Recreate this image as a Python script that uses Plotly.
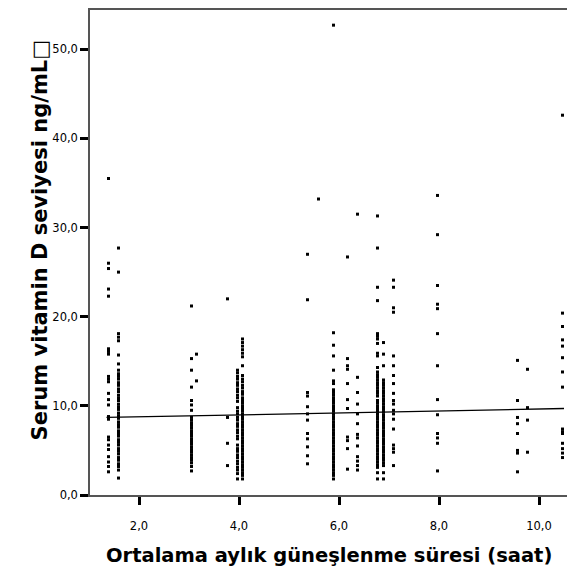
import plotly.graph_objects as go

# Column x positions (hours) and the vitamin D values read in each column
col_x = [1.39, 1.59, 3.05, 3.15, 3.77, 3.97, 4.07, 5.37, 5.59, 5.89, 6.17, 6.37,
         6.77, 6.89, 7.09, 7.97, 9.57, 9.77, 10.47]

y_139 = [35.5, 26.0, 25.4, 23.1, 22.3, 16.4, 16.1, 15.8, 13.3, 13.0, 12.7, 11.4, 10.7,
         10.1, 8.8, 8.5, 6.5, 6.2, 5.6, 5.1, 4.3, 3.7, 3.2, 2.6]
y_159 = [27.7, 25.0, 18.1, 17.7, 17.3, 15.7, 14.7, 14.0, 13.6, 13.3, 13.0, 12.6, 12.3,
         11.9, 11.6, 11.2, 10.9, 10.6, 10.2, 9.9, 9.6, 9.2, 8.9, 8.6, 8.2, 7.9, 7.6,
         7.2, 6.9, 6.6, 6.2, 5.9, 5.6, 5.2, 4.9, 4.6, 4.2, 3.9, 3.5, 3.2, 2.8, 1.9]
y_305 = [21.2, 15.3, 14.0, 12.1, 10.6, 10.1, 9.5, 8.7, 8.4, 8.1, 7.8, 7.5, 7.2, 6.9,
         6.6, 6.3, 6.0, 5.7, 5.4, 5.1, 4.8, 4.5, 4.2, 3.9, 3.6, 3.2, 2.7]
y_315 = [15.8, 12.8]
y_377 = [22.0, 8.7, 5.8, 3.3]
y_397 = [14.0, 13.7, 13.3, 13.0, 12.6, 12.3, 11.9, 11.6, 11.2, 10.9, 10.5, 9.8, 9.4,
         9.1, 8.7, 8.4, 8.0, 7.7, 7.3, 7.0, 6.6, 6.3, 5.6, 5.2, 4.9, 4.5, 4.2, 3.8,
         3.5, 3.1, 2.8, 2.4, 1.8]
y_407 = [17.5, 17.1, 16.7, 16.3, 15.9, 15.5, 14.5, 13.4, 13.0, 12.7, 12.3, 12.0, 11.6,
         11.3, 10.9, 10.6, 10.3, 10.0, 9.7, 9.4, 9.1, 8.8, 8.5, 8.2, 7.9, 7.6, 7.3,
         7.0, 6.7, 6.4, 6.1, 5.8, 5.5, 5.2, 4.9, 4.6, 4.3, 4.0, 3.7, 3.4, 3.1, 2.8,
         2.5, 2.2, 1.8]
y_537 = [27.0, 21.9, 11.5, 11.1, 9.9, 9.1, 8.4, 6.9, 6.3, 5.4, 4.4, 3.5]
y_559 = [33.2]
y_589 = [52.7, 18.2, 16.8, 15.6, 14.0, 12.8, 12.5, 11.8, 11.5, 11.2, 10.9, 10.6, 10.3,
         10.0, 9.7, 9.4, 9.1, 8.8, 8.5, 8.2, 7.9, 7.6, 7.3, 7.0, 6.7, 6.4, 6.1, 5.8,
         5.5, 5.2, 4.9, 4.6, 4.3, 4.0, 3.7, 3.4, 3.1, 2.8, 2.5, 2.2, 1.8]
y_617 = [26.7, 15.3, 14.5, 14.1, 12.5, 10.7, 9.7, 6.5, 6.1, 5.2, 2.9]
y_637 = [31.5, 13.2, 11.5, 10.2, 9.1, 8.0, 6.8, 6.4, 5.5, 4.3, 3.8, 3.3, 2.8]
y_677 = [31.3, 27.7, 23.3, 21.8, 18.1, 17.8, 17.5, 17.0, 15.9, 15.6, 14.3, 13.8, 13.5,
         13.2, 12.9, 12.6, 12.3, 12.0, 11.7, 11.4, 11.1, 10.6, 10.3, 10.0, 9.7, 9.4,
         9.1, 8.8, 8.5, 8.2, 7.9, 7.6, 7.3, 7.0, 6.7, 6.4, 6.1, 5.8, 5.5, 5.2, 4.9,
         4.6, 4.3, 4.0, 3.7, 3.4, 3.1, 2.5, 1.8]
y_689 = [17.1, 15.8, 14.5, 12.9, 12.6, 12.3, 12.0, 11.7, 11.4, 11.1, 10.8, 10.5, 10.2,
         9.9, 9.6, 9.3, 9.0, 8.7, 8.4, 8.1, 7.8, 7.5, 7.2, 6.9, 6.6, 6.3, 6.0, 5.7,
         5.4, 5.1, 4.8, 4.5, 4.2, 3.9, 3.6, 3.3, 2.5, 1.8]
y_709 = [24.1, 23.3, 21.0, 20.5, 15.6, 14.5, 13.4, 12.5, 11.4, 10.6, 10.2, 9.5, 9.1,
         8.5, 7.4, 5.6, 5.2, 4.8, 3.3]
y_797 = [33.6, 29.2, 23.5, 21.4, 20.9, 18.1, 14.5, 10.7, 9.0, 6.9, 6.4, 5.8, 2.7]
y_957 = [15.1, 10.6, 8.7, 8.0, 6.9, 5.0, 4.7, 2.6]
y_977 = [14.1, 9.8, 8.4, 4.8]
y_1047 = [42.6, 20.4, 18.9, 17.4, 16.7, 15.4, 13.8, 12.1, 7.4, 7.1, 6.9, 5.8, 5.2,
          4.7, 4.2]

col_y = [y_139, y_159, y_305, y_315, y_377, y_397, y_407, y_537, y_559, y_589, y_617,
         y_637, y_677, y_689, y_709, y_797, y_957, y_977, y_1047]

# Linear fit line end points
fit_x = [1.35, 10.5]
fit_y = [8.7, 9.7]

x_ticks = [2, 4, 6, 8, 10]
y_ticks = [0, 10, 20, 30, 40, 50]

x_title = "<b>Ortalama aylık güneşlenme süresi (saat)</b>"
y_title = "<b>Serum vitamin D seviyesi ng/mL□</b>"

xs, ys = [], []
for cx, cy in zip(col_x, col_y):
    for v in cy:
        xs.append(cx)
        ys.append(v)

fig = go.Figure()
fig.add_trace(go.Scatter(x=xs, y=ys, mode="markers",
                         marker=dict(symbol="square", size=3, color="black",
                                     line=dict(width=0)),
                         showlegend=False, hoverinfo="skip"))
fig.add_trace(go.Scatter(x=fit_x, y=fit_y, mode="lines",
                         line=dict(color="black", width=1.3),
                         showlegend=False, hoverinfo="skip"))

tick_font = dict(family="DejaVu Sans, sans-serif", size=11.5, color="black")

fig.update_layout(
    width=559, height=570,
    margin=dict(l=82, r=0, t=0, b=83),
    paper_bgcolor="white", plot_bgcolor="white",
    separators=",.",
    xaxis=dict(range=[1.02, 10.56], tickvals=x_ticks, tickformat=".1f",
               showgrid=False, zeroline=False,
               showline=True, linecolor="#555", linewidth=1.5, mirror=True,
               ticks="outside", ticklen=8, tickwidth=2.5, tickcolor="black",
               tickfont=tick_font, ticklabelstandoff=11),
    yaxis=dict(range=[0, 54.4], tickvals=y_ticks, tickformat=".1f",
               showgrid=False, zeroline=False,
               showline=True, linecolor="#555", linewidth=1.5, mirror=False,
               ticks="outside", ticklen=8, tickwidth=2.5, tickcolor="black",
               tickfont=tick_font),
    annotations=[
        dict(text=x_title, xref="paper", yref="paper", x=0.5, y=0,
             xanchor="center", yanchor="middle", yshift=-60, showarrow=False,
             font=dict(family="DejaVu Sans, sans-serif", size=19.5, color="black")),
        dict(text=y_title, xref="paper", yref="paper", x=0, y=0.525,
             xanchor="center", yanchor="middle", xshift=-50, textangle=-90,
             showarrow=False,
             font=dict(family="DejaVu Sans, sans-serif", size=21, color="black")),
    ],
)

fig.write_html("out.html")
